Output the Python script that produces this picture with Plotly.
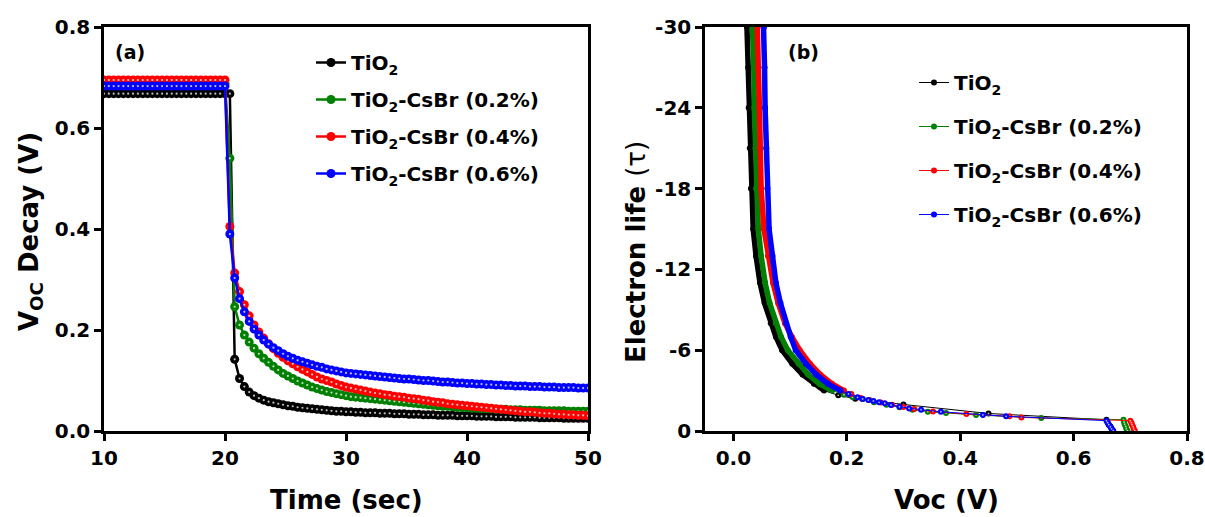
import plotly.graph_objects as go

# ---------------- (a) Voc decay ----------------
time_s = [
    10.0, 10.4, 10.8, 11.2, 11.6, 12.0, 12.4, 12.8, 13.2, 13.6,
    14.0, 14.4, 14.8, 15.2, 15.6, 16.0, 16.4, 16.8, 17.2, 17.6,
    18.0, 18.4, 18.8, 19.2, 19.6, 20.0, 20.4, 20.8, 21.2, 21.6,
    22.0, 22.4, 22.8, 23.2, 23.6, 24.0, 24.4, 24.8, 25.2, 25.6,
    26.0, 26.4, 26.8, 27.2, 27.6, 28.0, 28.4, 28.8, 29.2, 29.6,
    30.0, 30.4, 30.8, 31.2, 31.6, 32.0, 32.4, 32.8, 33.2, 33.6,
    34.0, 34.4, 34.8, 35.2, 35.6, 36.0, 36.4, 36.8, 37.2, 37.6,
    38.0, 38.4, 38.8, 39.2, 39.6, 40.0, 40.4, 40.8, 41.2, 41.6,
    42.0, 42.4, 42.8, 43.2, 43.6, 44.0, 44.4, 44.8, 45.2, 45.6,
    46.0, 46.4, 46.8, 47.2, 47.6, 48.0, 48.4, 48.8, 49.2, 49.6,
    50.0,
]

# illuminated (steady) part, t = 10 ... 20 s
voc_tio2_on = [
    0.668, 0.668, 0.668, 0.668, 0.668, 0.668, 0.668, 0.668, 0.668, 0.668,
    0.668, 0.668, 0.668, 0.668, 0.668, 0.668, 0.668, 0.668, 0.668, 0.668,
    0.668, 0.668, 0.668, 0.668, 0.668, 0.668,
]
voc_cs02_on = [
    0.688, 0.688, 0.688, 0.688, 0.688, 0.688, 0.688, 0.688, 0.688, 0.688,
    0.688, 0.688, 0.688, 0.688, 0.688, 0.688, 0.688, 0.688, 0.688, 0.688,
    0.688, 0.688, 0.688, 0.688, 0.688, 0.688,
]
voc_cs04_on = [
    0.695, 0.695, 0.695, 0.695, 0.695, 0.695, 0.695, 0.695, 0.695, 0.695,
    0.695, 0.695, 0.695, 0.695, 0.695, 0.695, 0.695, 0.695, 0.695, 0.695,
    0.695, 0.695, 0.695, 0.695, 0.695, 0.695,
]
voc_cs06_on = [
    0.683, 0.683, 0.683, 0.683, 0.683, 0.683, 0.683, 0.683, 0.683, 0.683,
    0.683, 0.683, 0.683, 0.683, 0.683, 0.683, 0.683, 0.683, 0.683, 0.683,
    0.683, 0.683, 0.683, 0.683, 0.683, 0.683,
]

# dark decay, t = 20.4 ... 50 s
voc_tio2_off = [
    0.668, 0.142, 0.104, 0.088, 0.077, 0.070, 0.065, 0.061, 0.058, 0.056,
    0.054, 0.052, 0.050, 0.049, 0.047, 0.046, 0.045, 0.044, 0.043, 0.042,
    0.041, 0.040, 0.039, 0.039, 0.038, 0.038, 0.037, 0.037, 0.036, 0.036,
    0.036, 0.035, 0.035, 0.035, 0.034, 0.034, 0.034, 0.033, 0.033, 0.033,
    0.032, 0.032, 0.032, 0.031, 0.031, 0.031, 0.031, 0.030, 0.030, 0.030,
    0.030, 0.029, 0.029, 0.029, 0.029, 0.028, 0.028, 0.028, 0.028, 0.027,
    0.027, 0.027, 0.027, 0.027, 0.026, 0.026, 0.026, 0.026, 0.026, 0.025,
    0.025, 0.025, 0.025, 0.025, 0.025,
]
voc_cs02_off = [
    0.540, 0.246, 0.210, 0.190, 0.176, 0.164, 0.153, 0.144, 0.136, 0.128,
    0.121, 0.114, 0.109, 0.104, 0.099, 0.095, 0.091, 0.087, 0.084, 0.081,
    0.078, 0.076, 0.074, 0.072, 0.070, 0.068, 0.067, 0.066, 0.065, 0.064,
    0.063, 0.062, 0.061, 0.060, 0.059, 0.058, 0.057, 0.056, 0.055, 0.054,
    0.053, 0.052, 0.051, 0.050, 0.049, 0.049, 0.048, 0.047, 0.046, 0.046,
    0.045, 0.045, 0.044, 0.044, 0.044, 0.043, 0.043, 0.043, 0.042, 0.042,
    0.042, 0.041, 0.041, 0.041, 0.041, 0.040, 0.040, 0.040, 0.040, 0.040,
    0.039, 0.039, 0.039, 0.039, 0.039,
]
voc_cs04_off = [
    0.405, 0.313, 0.276, 0.250, 0.228, 0.210, 0.196, 0.184, 0.173, 0.163,
    0.154, 0.146, 0.139, 0.133, 0.127, 0.122, 0.117, 0.112, 0.107, 0.103,
    0.100, 0.097, 0.093, 0.090, 0.087, 0.085, 0.083, 0.081, 0.079, 0.077,
    0.075, 0.074, 0.072, 0.071, 0.069, 0.068, 0.067, 0.065, 0.064, 0.063,
    0.061, 0.060, 0.058, 0.057, 0.056, 0.054, 0.053, 0.052, 0.051, 0.050,
    0.049, 0.048, 0.047, 0.046, 0.045, 0.044, 0.043, 0.042, 0.041, 0.040,
    0.039, 0.038, 0.038, 0.037, 0.036, 0.035, 0.035, 0.034, 0.033, 0.033,
    0.032, 0.032, 0.031, 0.031, 0.030,
]
voc_cs06_off = [
    0.390, 0.303, 0.262, 0.236, 0.217, 0.202, 0.190, 0.180, 0.172, 0.165,
    0.159, 0.153, 0.148, 0.144, 0.140, 0.137, 0.134, 0.131, 0.128, 0.126,
    0.123, 0.121, 0.119, 0.117, 0.115, 0.114, 0.113, 0.112, 0.111, 0.110,
    0.109, 0.108, 0.107, 0.106, 0.105, 0.104, 0.103, 0.103, 0.102, 0.101,
    0.100, 0.100, 0.099, 0.098, 0.097, 0.097, 0.096, 0.095, 0.095, 0.094,
    0.094, 0.093, 0.093, 0.092, 0.092, 0.091, 0.091, 0.090, 0.090, 0.089,
    0.089, 0.089, 0.088, 0.088, 0.088, 0.087, 0.087, 0.087, 0.086, 0.086,
    0.086, 0.086, 0.085, 0.085, 0.085,
]

# ---------------- (b) electron lifetime vs Voc ----------------
# first 17 points of each series form the steep, densely sampled branch
tau_steep = [-32, -30, -27, -24, -21, -18, -15, -13, -11, -9.5, -8, -7, -6, -5, -4.2, -3.5, -3.0]
N_STEEP = len(tau_steep)

lt_voc_tio2 = [0.0225, 0.024, 0.026, 0.027, 0.029, 0.031, 0.035, 0.040, 0.047, 0.055,
               0.066, 0.075, 0.086, 0.104, 0.122, 0.142, 0.160,
               0.185, 0.215, 0.300, 0.450, 0.658,
               0.660, 0.662, 0.665, 0.667, 0.669]
lt_tau_tio2 = tau_steep + [-2.65, -2.40, -1.97, -1.30, -0.83,
                           -0.66, -0.49, -0.33, -0.16, -0.02]

lt_voc_cs02 = [0.032, 0.034, 0.036, 0.037, 0.039, 0.040, 0.044, 0.049, 0.056, 0.064,
               0.075, 0.084, 0.096, 0.115, 0.132, 0.152, 0.174,
               0.195, 0.210, 0.228, 0.248, 0.270, 0.293, 0.316, 0.343, 0.375,
               0.428, 0.543, 0.688,
               0.689, 0.690, 0.692, 0.693, 0.695]
lt_tau_cs02 = tau_steep + [-2.70, -2.52, -2.38, -2.13, -1.95, -1.76, -1.58, -1.43, -1.34,
                           -1.19, -0.97, -0.84,
                           -0.67, -0.50, -0.34, -0.17, -0.02]

lt_voc_cs04 = [0.041, 0.043, 0.044, 0.046, 0.047, 0.049, 0.054, 0.061, 0.070, 0.079,
               0.091, 0.103, 0.117, 0.135, 0.153, 0.174, 0.195,
               0.208, 0.225, 0.240, 0.260, 0.280, 0.300, 0.319, 0.352, 0.411,
               0.487, 0.508, 0.700,
               0.702, 0.703, 0.705, 0.706, 0.708]
lt_tau_cs04 = tau_steep + [-2.75, -2.45, -2.30, -2.12, -1.95, -1.78, -1.63, -1.45, -1.26,
                           -1.09, -1.01, -0.77,
                           -0.62, -0.47, -0.31, -0.16, -0.02]

lt_voc_cs06 = [0.052, 0.054, 0.055, 0.056, 0.058, 0.060, 0.063, 0.069, 0.075, 0.083,
               0.093, 0.101, 0.110, 0.128, 0.146, 0.167, 0.189,
               0.203, 0.219, 0.228, 0.238, 0.247, 0.257, 0.267, 0.278, 0.293,
               0.310, 0.331, 0.366, 0.440, 0.481, 0.658,
               0.660, 0.662, 0.665, 0.667, 0.670]
lt_tau_cs06 = tau_steep + [-2.75, -2.50, -2.38, -2.30, -2.23, -2.13, -2.06, -1.93, -1.80,
                           -1.68, -1.58, -1.43, -1.19, -1.09, -0.77,
                           -0.62, -0.47, -0.31, -0.16, -0.02]

names = ["TiO<sub>2</sub>", "TiO<sub>2</sub>-CsBr (0.2%)",
         "TiO<sub>2</sub>-CsBr (0.4%)", "TiO<sub>2</sub>-CsBr (0.6%)"]
colors = ["#000000", "#008000", "#ff0000", "#0000ff"]

decay_series = [voc_tio2_on + voc_tio2_off, voc_cs02_on + voc_cs02_off,
                voc_cs04_on + voc_cs04_off, voc_cs06_on + voc_cs06_off]
life_series = [(lt_voc_tio2, lt_tau_tio2), (lt_voc_cs02, lt_tau_cs02),
               (lt_voc_cs04, lt_tau_cs04), (lt_voc_cs06, lt_tau_cs06)]

# tick positions and their printed labels
t_ticks = [10, 20, 30, 40, 50]
v_ticks = [0.0, 0.2, 0.4, 0.6, 0.8]
tau_ticks = [0, -6, -12, -18, -24, -30]
tau_tick_text = ["0", "-6", "-12", "-18", "-24", "-30"]

FONT = "DejaVu Sans"
W, H = 1205, 517

fig = go.Figure()

# (a) beaded lines: coloured spheres with a small white highlight
for i, (name, col, v) in enumerate(zip(names, colors, decay_series)):
    fig.add_trace(go.Scatter(
        x=time_s, y=v, name=name, mode="lines+markers",
        line=dict(color=col, width=2.5),
        marker=dict(color=col, size=9, line=dict(width=0)),
        legend="legend", legendgroup=f"a{i}",
        xaxis="x", yaxis="y"))
    fig.add_trace(go.Scatter(
        x=time_s, y=v, mode="markers", showlegend=False, hoverinfo="skip",
        marker=dict(color="rgba(255,255,255,0.75)", size=2.2, line=dict(width=0)),
        xaxis="x", yaxis="y"))

# (b) thin lines with small markers; the steep branch is so dense it reads as a band
for i, (name, col, (vx, ty)) in enumerate(zip(names, colors, life_series)):
    fig.add_trace(go.Scatter(
        x=vx[:N_STEEP], y=ty[:N_STEEP], mode="lines", showlegend=False,
        hoverinfo="skip", line=dict(color=col, width=5.5),
        xaxis="x2", yaxis="y2"))
    fig.add_trace(go.Scatter(
        x=vx, y=ty, name=name, mode="lines+markers",
        line=dict(color=col, width=1),
        marker=dict(color=col, size=6, line=dict(width=0)),
        legend="legend2", legendgroup=f"b{i}",
        xaxis="x2", yaxis="y2"))
    fig.add_trace(go.Scatter(
        x=vx[N_STEEP:], y=ty[N_STEEP:], mode="markers", showlegend=False,
        hoverinfo="skip",
        marker=dict(color="rgba(255,255,255,0.7)", size=1.8, line=dict(width=0)),
        xaxis="x2", yaxis="y2"))

tickfont = dict(family=FONT, size=20, color="black", weight="bold")
axis_common = dict(showline=True, linecolor="black", linewidth=2.5, mirror=True,
                   ticks="outside", ticklen=7, tickwidth=2.5, tickcolor="black",
                   showgrid=False, zeroline=False, tickfont=tickfont,
                   automargin=False)

x1 = (104 / W, 588 / W)
x2 = (705 / W, 1187 / W)
yd = (86 / H, 490 / H)

fig.update_layout(
    width=W, height=H,
    margin=dict(l=0, r=0, t=0, b=0, autoexpand=False),
    paper_bgcolor="white", plot_bgcolor="white",
    xaxis=dict(domain=list(x1), range=[10, 50], tickvals=t_ticks,
               anchor="y", **axis_common),
    yaxis=dict(domain=list(yd), range=[0, 0.8], tickvals=v_ticks,
               tickformat=".1f", anchor="x", **axis_common),
    xaxis2=dict(domain=list(x2), range=[-0.05, 0.8], tickvals=v_ticks,
                tickformat=".1f", anchor="y2", **axis_common),
    yaxis2=dict(domain=list(yd), range=[0, -30], tickvals=tau_ticks,
                ticktext=tau_tick_text, anchor="x2", **axis_common),
    legend=dict(x=311 / W, y=1 - 43 / H, xanchor="left", yanchor="top",
                bgcolor="rgba(0,0,0,0)", tracegroupgap=8,
                font=dict(family=FONT, size=20, color="black", weight="bold")),
    legend2=dict(x=914 / W, y=1 - 63 / H, xanchor="left", yanchor="top",
                 bgcolor="rgba(0,0,0,0)", tracegroupgap=15,
                 font=dict(family=FONT, size=20, color="black", weight="bold")),
    showlegend=True,
)

title_font = dict(family=FONT, size=26, color="black", weight="bold")
label_font = dict(family=FONT, size=19, color="black", weight="bold")
annotations = [
    dict(text="Time (sec)", x=(x1[0] + x1[1]) / 2, y=1 - 500 / H,
         font=title_font),
    dict(text="V<sub>OC</sub> Decay (V)", x=30 / W, y=1 - 232 / H,
         textangle=-90, font=title_font),
    dict(text="Voc (V)", x=(x2[0] + x2[1]) / 2, y=1 - 500 / H,
         font=title_font),
    dict(text="Electron life <span style='font-weight:normal'>(τ)</span>",
         x=636 / W, y=1 - 252 / H, textangle=-90, font=title_font),
    dict(text="(a)", x=130 / W, y=1 - 52 / H, font=label_font),
    dict(text="(b)", x=803 / W, y=1 - 52 / H, font=label_font),
]
for a in annotations:
    a.update(xref="paper", yref="paper", xanchor="center", yanchor="middle",
             showarrow=False)
fig.update_layout(annotations=annotations)

fig.write_html("out.html")
